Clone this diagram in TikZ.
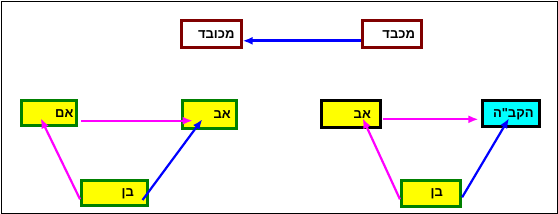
\documentclass[tikz,border=0pt]{standalone}
\usepackage{fontspec}
\setmainfont{Liberation Sans}
\newfontfamily\hebfont[Script=Hebrew]{Liberation Sans}
\TeXXeTstate=1
\usetikzlibrary{arrows.meta}

\definecolor{framered}{RGB}{128,0,0}
\definecolor{boxgreen}{RGB}{0,128,0}
\definecolor{boxyellow}{RGB}{255,255,0}
\definecolor{boxcyan}{RGB}{0,255,255}
\definecolor{linepink}{RGB}{255,0,255}
\definecolor{lineblue}{RGB}{0,0,255}

% text pushed to the right by a blank on its left
\newcommand{\hebtxt}[2]{\hspace*{#1pt}\beginR #2\endR}

\tikzset{
  box/.style={draw, rectangle, line width=3pt, inner sep=0pt,
    font=\hebfont\bfseries\fontsize{13}{13}\selectfont},
  pinkarrow/.style={draw=linepink, line width=2.2pt, -{Latex[length=10pt,width=8pt]}},
  bluearrow/.style={draw=lineblue, line width=2.2pt, -{Latex[length=10pt,width=8pt]}}
}

\begin{document}
\begin{tikzpicture}[x=1pt,y=-1pt]
\useasboundingbox (0,0) rectangle (558,214);

% Frame
\draw[line width=1pt] (1,1) rectangle (557,213);

% Top row
\node[box, draw=framered, fill=white, minimum width=59.7pt, minimum height=27pt]
  (mekhubad) at (211.3,34.3) {\hebtxt{10}{מכובד}};
\node[box, draw=framered, fill=white, minimum width=59pt, minimum height=27pt]
  (mekhabed) at (391.7,34.3) {\hebtxt{14}{מכבד}};

% Left triangle
\node[box, draw=boxgreen, fill=boxyellow, minimum width=54.7pt, minimum height=25pt]
  (am) at (48.8,113.3) {\hebtxt{31}{אם}};
\node[box, draw=boxgreen, fill=boxyellow, minimum width=54pt, minimum height=27.7pt]
  (avL) at (209.2,114.7) {\hebtxt{26}{אב}};
\node[box, draw=boxgreen, fill=boxyellow, minimum width=66.3pt, minimum height=25pt]
  (benL) at (114.7,193.3) {\hebtxt{26}{בן}};

% Right triangle
\node[box, draw=black, fill=boxyellow, minimum width=58.7pt, minimum height=27pt]
  (avR) at (350.8,114.3) {\hebtxt{23}{אב}};
\node[box, draw=black, fill=boxcyan, minimum width=57.3pt, minimum height=26pt]
  (hkbh) at (510.8,113.8) {\hebtxt{5}{הקב"ה}};
\node[box, draw=boxgreen, fill=boxyellow, minimum width=58.7pt, minimum height=26pt]
  (benR) at (430.8,193.8) {\hebtxt{12}{בן}};

% Arrows
\draw[bluearrow, line width=2.7pt] ([shift={(0,6.5)}]mekhabed.west) -- ([shift={(0,6.5)}]mekhubad.east);

\draw[pinkarrow] ([shift={(3.8,7.4)}]am.east) -- ([shift={(12,6)}]avL.west);
\draw[pinkarrow] ([shift={(0,6)}]benL.west) -- ([shift={(-8.1,5)}]am.center);
\draw[bluearrow] ([shift={(-6.8,6.7)}]benL.east) -- ([shift={(-6.9,4.6)}]avL.center);

\draw[pinkarrow] ([shift={(1.5,5)}]avR.east) -- ([shift={(-2.2,5.5)}]hkbh.west);
\draw[pinkarrow] ([shift={(0,5.5)}]benR.west) -- ([shift={(11.9,4)}]avR.center);
\draw[bluearrow] ([shift={(0.5,3.5)}]benR.east) -- ([shift={(-1.8,4.5)}]hkbh.center);

\end{tikzpicture}
\end{document}
